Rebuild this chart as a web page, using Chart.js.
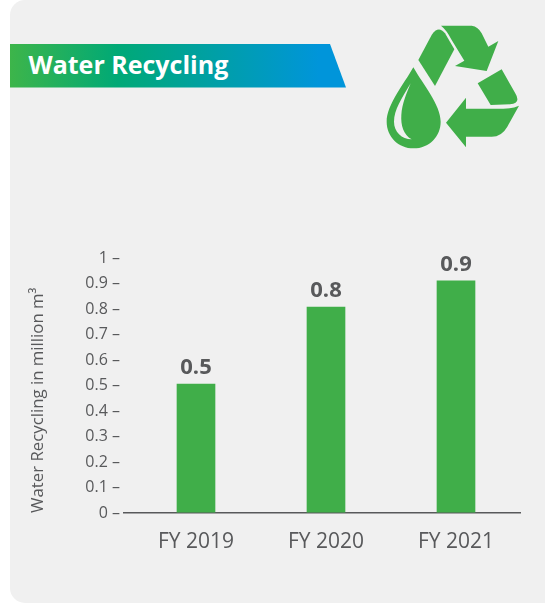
<!DOCTYPE html>
<html>
<head>
<meta charset="utf-8">
<title>Water Recycling</title>
<script src="https://cdn.jsdelivr.net/npm/chart.js@4"></script>
<style>
    html, body { margin: 0; padding: 0; background: #fff; }
    body { position: relative; width: 545px; height: 603px; overflow: hidden; font-family: "Open Sans", sans-serif; }
    .panel { position: absolute; left: 10px; top: 0; width: 535px; height: 603px; background: #f0f0f0; border-radius: 15px 0 0 15px; }
    .banner { position: absolute; left: 10px; top: 44px; width: 336px; height: 43.5px; background: linear-gradient(90deg, #3db54a 0%, #00a976 32%, #0095da 92%); clip-path: polygon(0 0, 320px 0, 336px 100%, 0 100%); }
    .banner span { position: absolute; left: 18.5px; top: 0; color: #fff; font-weight: 700; font-size: 25px; line-height: 40px; white-space: nowrap; }
    .icon { position: absolute; left: 370px; top: 10px; }
    canvas { position: absolute; left: 0; top: 0; }
</style>
</head>
<body>
<div class="panel"></div>
<div class="banner"><span>Water Recycling</span></div>
<svg class="icon" width="170" height="150" viewBox="0 0 510 450">
    <g fill="#40ae49">
        <path d="M213 47 L305 47 Q325 50 335 70 L355 110 L385 93 L350 183 L255 168 L283 152 L245 90 Q230 60 213 47 Z"/>
        <path d="M145 150 L185 75 Q205 45 225 70 L253 118 L195 228 Z"/>
        <path d="M323 220 L395 178 L435 248 Q455 280 420 283 L362 285 Z"/>
        <path d="M228 338 L288 263 L288 296 L400 296 Q430 296 447 287 L412 350 Q395 380 365 380 L288 380 L288 412 Z"/>
        <path d="M130 172 C100 225 50 285 50 335 C50 380 85 415 131 415 C177 415 212 380 212 335 C212 285 160 225 130 172 Z"/>
    </g>
    <path fill="#f0f0f0" d="M122 220 C95 265 72 300 72 335 C72 365 95 388 125 388 C100 375 92 345 94 315 C96 280 110 250 122 220 Z"/>
</svg>
<canvas id="myChart" width="545" height="603"></canvas>
<script>
const categories = ["FY 2019", "FY 2020", "FY 2021"];
const barValues = [0.506, 0.808, 0.91];
const tickLabels = ["0", "0.1", "0.2", "0.3", "0.4", "0.5", "0.6", "0.7", "0.8", "0.9", "1"];
const axisTitle = "Water Recycling in million m\u00B3";

const textColor = "#58595b";
const barColor = "#40ae49";

// bold value above each bar
const valueLabels = {
    id: "valueLabels",
    afterDatasetsDraw(chart) {
        const ctx = chart.ctx;
        const bars = chart.getDatasetMeta(0).data;
        ctx.save();
        ctx.font = "700 22px 'Open Sans'";
        ctx.fillStyle = textColor;
        ctx.textAlign = "center";
        ctx.textBaseline = "alphabetic";
        bars.forEach((bar, i) => {
            ctx.fillText(barValues[i].toFixed(1), bar.x, bar.y - 10);
        });
        ctx.restore();
    }
};

new Chart("myChart", {
    type: "bar",
    data: {
        labels: categories,
        datasets: [{
            data: barValues,
            backgroundColor: barColor,
            barThickness: 38
        }]
    },
    plugins: [valueLabels],
    options: {
        responsive: false,
        animation: false,
        layout: { padding: { left: 28, right: 24, top: 258, bottom: 0 } },
        plugins: {
            legend: { display: false },
            tooltip: { enabled: false }
        },
        scales: {
            x: {
                grid: { display: false },
                border: { display: false },
                ticks: { color: textColor, font: { family: "Open Sans", size: 21 }, padding: 8, maxRotation: 0 },
                afterFit: (scale) => { scale.height = 90; }
            },
            y: {
                min: 0,
                max: 1,
                border: { display: false },
                grid: {
                    // only the zero line shows, it runs out past the plot as in the picture
                    color: (c) => c.tick.value === 0 ? textColor : "transparent",
                    tickColor: (c) => c.tick.value === 0 ? textColor : "transparent",
                    lineWidth: 1.5,
                    tickLength: 8
                },
                ticks: {
                    stepSize: 0.1,
                    autoSkip: false,
                    color: textColor,
                    padding: 3,
                    font: { family: "Open Sans", size: 16 },
                    callback: (v, i) => tickLabels[i] + " \u2013"
                },
                title: {
                    display: true,
                    text: axisTitle,
                    color: textColor,
                    align: "start",
                    padding: 0,
                    font: { family: "Open Sans", size: 16.8 }
                },
                afterFit: (scale) => { scale.width = 103; }
            }
        }
    }
});
</script>
</body>
</html>
